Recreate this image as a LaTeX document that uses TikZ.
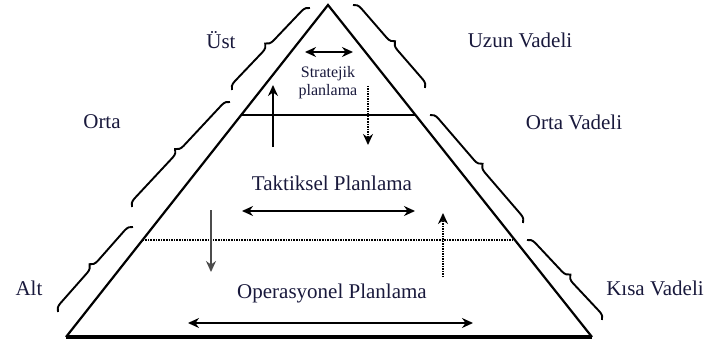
\documentclass[tikz,border=0pt]{standalone}
\usepackage{fontspec}
\setmainfont{Liberation Serif}
\usetikzlibrary{calc,arrows.meta,decorations.pathreplacing}
\definecolor{ink}{RGB}{25,25,60}
\begin{document}
\begin{tikzpicture}[x=1pt,y=-1pt,
  edge/.style={line width=2.2pt,black},
  lbl/.style={font=\fontsize{21}{24}\selectfont,text=ink,inner sep=0pt},
  smalllbl/.style={font=\fontsize{16}{18}\selectfont,text=ink,inner sep=0pt,align=center},
  bracemark/.style={decorate,decoration={brace,amplitude=8pt},line width=1.9pt},
  harrow/.style={line width=1.7pt,{Stealth[length=11pt,width=10pt]}-{Stealth[length=11pt,width=10pt]}},
  varrow/.style={line width=1.5pt,-{Stealth[length=11pt,width=10pt]}},
  dotarrow/.style={line width=1.5pt,densely dotted,-{Stealth[length=11pt,width=10pt]}}
]
\useasboundingbox (0,0) rectangle (713,345);
% triangle
\coordinate (apex) at (328,5);
\coordinate (bl) at (66,337);
\coordinate (br) at (592,337);
\draw[edge] (bl) -- (apex) -- (br);
\draw[line width=3.5pt] (bl) -- (br);
% level lines
\coordinate (l1) at ($(apex)!{110/332}!(bl)$);
\coordinate (r1) at ($(apex)!{110/332}!(br)$);
\coordinate (l2) at ($(apex)!{235/332}!(bl)$);
\coordinate (r2) at ($(apex)!{235/332}!(br)$);
\draw[line width=1.8pt] (l1) -- (r1);
\draw[line width=1.6pt,densely dotted] (l2) -- (r2);
% texts inside
\node[smalllbl] (strat) at (328,83) {Stratejik\\planlama};
\node[lbl] (takt) at (332,183) {Taktiksel Planlama};
\node[lbl] (oper) at (332,293) {Operasyonel Planlama};
% horizontal arrows
\coordinate (sa1) at (305,52); \coordinate (sa2) at (353,52);
\draw[harrow] (sa1) -- (sa2);
\coordinate (ta1) at (242,211); \coordinate (ta2) at (415,211);
\draw[harrow] (ta1) -- (ta2);
\coordinate (oa1) at (188,323); \coordinate (oa2) at (473,323);
\draw[harrow] (oa1) -- (oa2);
% vertical arrows
\coordinate (u1a) at (273,147); \coordinate (u1b) at (273,85);
\draw[varrow] (u1a) -- (u1b);
\coordinate (d1a) at (368,86); \coordinate (d1b) at (368,145);
\draw[dotarrow] (d1a) -- (d1b);
\coordinate (d2a) at (211,210); \coordinate (d2b) at (211,272);
\draw[varrow,draw=black!70,fill=black!70] (d2a) -- (d2b);
\coordinate (u2a) at (443,277); \coordinate (u2b) at (443,213);
\draw[dotarrow] (u2a) -- (u2b);
% braces
\coordinate (b1s) at (232,90); \coordinate (b1e) at (310,8);
\coordinate (b2s) at (132,207); \coordinate (b2e) at (230,102);
\coordinate (b3s) at (58,312); \coordinate (b3e) at (133,227);
\coordinate (b4s) at (353,5); \coordinate (b4e) at (425,88);
\coordinate (b5s) at (430,115); \coordinate (b5e) at (523,223);
\coordinate (b6s) at (527,240); \coordinate (b6e) at (602,320);
\draw[bracemark] (b1s) -- (b1e);
\draw[bracemark] (b2s) -- (b2e);
\draw[bracemark] (b3s) -- (b3e);
\draw[bracemark] (b4s) -- (b4e);
\draw[bracemark] (b5s) -- (b5e);
\draw[bracemark] (b6s) -- (b6e);
% side labels
\node[lbl] (ust) at (221,40) {Üst};
\node[lbl] (uzun) at (520,40) {Uzun Vadeli};
\node[lbl] (orta) at (102,122) {Orta};
\node[lbl] (ortav) at (574,122) {Orta Vadeli};
\node[lbl] (alt) at (29,288) {Alt};
\node[lbl] (kisa) at (655,288) {Kısa Vadeli};
\end{tikzpicture}
\end{document}
